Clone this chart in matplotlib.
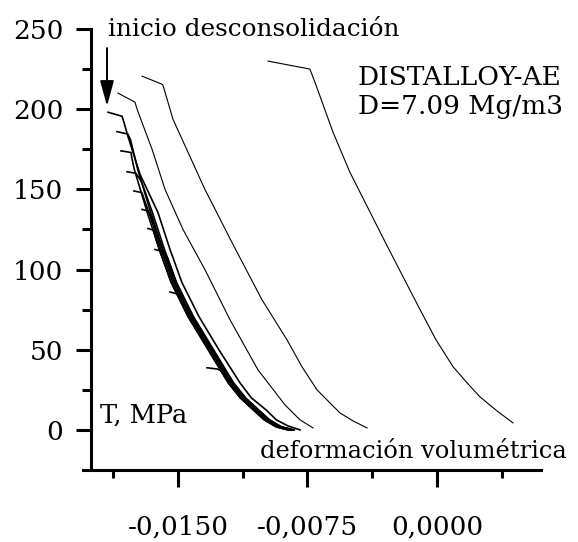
import matplotlib
matplotlib.use("Agg")
import matplotlib.pyplot as plt
from matplotlib.ticker import FixedLocator, FuncFormatter

plt.rcParams['font.family'] = ['DejaVu Serif']

# ---- data (volumetric strain, stress MPa) ----
A_x = [-0.00979, -0.00736, -0.00707, -0.00602, -0.00504, -0.00284, -0.00098, -0.00006, 0.00093, 0.00174, 0.00249, 0.00347, 0.00440]
A_y = [230.0, 225.0, 216.9, 185.6, 160.6, 113.75, 75.0, 56.25, 39.4, 29.4, 20.6, 11.9, 4.4]

B_x = [-0.01708, -0.01593, -0.01587, -0.01529, -0.01344, -0.01181, -0.01014, -0.00869, -0.00782, -0.00695, -0.00562, -0.00486, -0.00405]
B_y = [220.6, 215.6, 215.0, 193.75, 150.0, 115.6, 81.25, 56.25, 39.4, 25.0, 10.6, 5.6, 1.25]

C_x = [-0.01847, -0.01749, -0.01737, -0.01650, -0.01575, -0.01471, -0.01344, -0.01199, -0.01037, -0.00880, -0.00793, -0.00718]
C_y = [210.0, 204.4, 200.0, 175.0, 150.0, 125.0, 100.0, 68.75, 37.5, 15.6, 6.25, 1.25]

D_x = [-0.01905, -0.01824, -0.01813, -0.01790, -0.01720, -0.01616, -0.01546, -0.01477, -0.01378, -0.01263, -0.01141, -0.01075, -0.00990, -0.00930, -0.00863, -0.00793]
D_y = [198.1, 195.6, 191.9, 183.1, 159.4, 135.6, 112.5, 91.9, 70.6, 50.0, 29.4, 20.0, 12.5, 6.25, 2.5, 0.0]

E_x = [-0.01853, -0.01790, -0.01775, -0.01733, -0.01658, -0.01588, -0.01519, -0.01421, -0.01305, -0.01189, -0.01119, -0.01044, -0.00980, -0.00911, -0.00835]
E_y = [186.0, 184.5, 181.0, 162.5, 135.6, 112.5, 91.9, 70.6, 50.0, 29.4, 20.0, 12.5, 6.25, 1.9, 0.0]

F_x = [-0.01830, -0.01772, -0.01768, -0.01753, -0.01678, -0.01608, -0.01539, -0.01441, -0.01325, -0.01209, -0.01139, -0.01064, -0.01000, -0.00931, -0.00860]
F_y = [174.0, 173.0, 170.0, 162.5, 135.6, 112.5, 91.9, 70.6, 50.0, 29.4, 20.0, 12.5, 6.25, 1.9, 0.0]

G_x = [-0.01795, -0.01743, -0.01712, -0.01648, -0.01578, -0.01509, -0.01411, -0.01295, -0.01179, -0.01109, -0.01034, -0.00970, -0.00901, -0.00826]
G_y = [161.0, 160.0, 155.0, 135.6, 112.5, 91.9, 70.6, 50.0, 29.4, 20.0, 12.5, 6.25, 1.9, 0.0]

H_x = [-0.01755, -0.01709, -0.01690, -0.01668, -0.01598, -0.01529, -0.01431, -0.01315, -0.01199, -0.01129, -0.01054, -0.00990, -0.00921, -0.00851]
H_y = [149.0, 148.0, 142.0, 135.6, 112.5, 91.9, 70.6, 50.0, 29.4, 20.0, 12.5, 6.25, 1.9, 0.0]

I_x = [-0.01708, -0.01674, -0.01658, -0.01588, -0.01519, -0.01421, -0.01305, -0.01189, -0.01119, -0.01044, -0.00980, -0.00911, -0.00840]
I_y = [137.5, 136.5, 134.0, 112.5, 91.9, 70.6, 50.0, 29.4, 20.0, 12.5, 6.25, 1.9, 0.0]

J_x = [-0.01674, -0.01640, -0.01635, -0.01608, -0.01539, -0.01441, -0.01325, -0.01209, -0.01139, -0.01064, -0.01000, -0.00931, -0.00865]
J_y = [125.6, 124.5, 122.0, 112.5, 91.9, 70.6, 50.0, 29.4, 20.0, 12.5, 6.25, 1.9, 0.0]

K_x = [-0.01633, -0.01598, -0.01563, -0.01509, -0.01411, -0.01295, -0.01179, -0.01109, -0.01034, -0.00970, -0.00901, -0.00830]
K_y = [112.5, 111.5, 108.0, 91.9, 70.6, 50.0, 29.4, 20.0, 12.5, 6.25, 1.9, 0.0]

L_x = [-0.01546, -0.01512, -0.01492, -0.01421, -0.01305, -0.01189, -0.01119, -0.01044, -0.00980, -0.00911, -0.00840]
L_y = [86.0, 85.0, 84.0, 70.6, 50.0, 29.4, 20.0, 12.5, 6.25, 1.9, 0.0]

M_x = [-0.01332, -0.01274, -0.01252, -0.01199, -0.01129, -0.01054, -0.00990, -0.00921, -0.00851]
M_y = [38.75, 38.0, 37.0, 29.4, 20.0, 12.5, 6.25, 1.9, 0.0]

outer_curves = [(A_x, A_y), (B_x, B_y), (C_x, C_y)]
bundle_curves = [(D_x, D_y), (E_x, E_y), (F_x, F_y), (G_x, G_y), (H_x, H_y),
                 (I_x, I_y), (J_x, J_y), (K_x, K_y), (L_x, L_y), (M_x, M_y)]

x_major = [-0.0150, -0.0075, 0.0000]
x_minor = [-0.01875, -0.01125, -0.00375, 0.00375]
y_major = [0, 50, 100, 150, 200, 250]
y_minor = [25, 75, 125, 175, 225]

# ---- figure ----
fig = plt.figure(figsize=(5.78, 5.42), dpi=100)
ax = fig.add_axes([0.1436, 0.13284, 0.79239, 0.81365])
ax.set_xlim(-0.0205, 0.006025)
ax.set_ylim(-25, 250)

for xs, ys in outer_curves:
    ax.plot(xs, ys, color='black', lw=0.8, solid_joinstyle='round')
for xs, ys in bundle_curves:
    ax.plot(xs, ys, color='black', lw=1.2, solid_joinstyle='round')

for s in ['top', 'right']:
    ax.spines[s].set_visible(False)
ax.spines['left'].set_position(('data', -0.02004))
ax.spines['left'].set_linewidth(2.2)
ax.spines['bottom'].set_linewidth(2.2)

ax.xaxis.set_major_locator(FixedLocator(x_major))
ax.xaxis.set_minor_locator(FixedLocator(x_minor))
ax.yaxis.set_major_locator(FixedLocator(y_major))
ax.yaxis.set_minor_locator(FixedLocator(y_minor))
ax.xaxis.set_major_formatter(FuncFormatter(lambda v, p: ('%.4f' % v).replace('.', ',')))

ax.tick_params(axis='x', which='major', direction='out', length=12, width=2.2, pad=20, labelsize=19)
ax.tick_params(axis='x', which='minor', direction='out', length=6, width=2.2)
ax.tick_params(axis='y', which='major', direction='out', length=11, width=2.2, pad=9, labelsize=19)
ax.tick_params(axis='y', which='minor', direction='out', length=6.5, width=2.2)

ax.text(-0.01905, 245.6, 'inicio desconsolidación', fontsize=17.8, ha='left', va='baseline')
ax.annotate('', xy=(-0.01911, 201.9), xytext=(-0.01911, 238.1),
            arrowprops=dict(arrowstyle='-|>,head_length=1.1,head_width=0.3', mutation_scale=14,
                            lw=1.4, color='black', shrinkA=0, shrinkB=0))
ax.text(-0.00458, 215.0, 'DISTALLOY-AE', fontsize=19, ha='left', va='baseline')
ax.text(-0.00458, 196.9, 'D=7.09 Mg/m3', fontsize=19, ha='left', va='baseline')
ax.text(-0.01952, 4.4, 'T, MPa', fontsize=18.5, ha='left', va='baseline')
ax.text(-0.01025, -17.5, 'deformación volumétrica', fontsize=17.4, ha='left', va='baseline')

fig.savefig('out.png', dpi=100)
